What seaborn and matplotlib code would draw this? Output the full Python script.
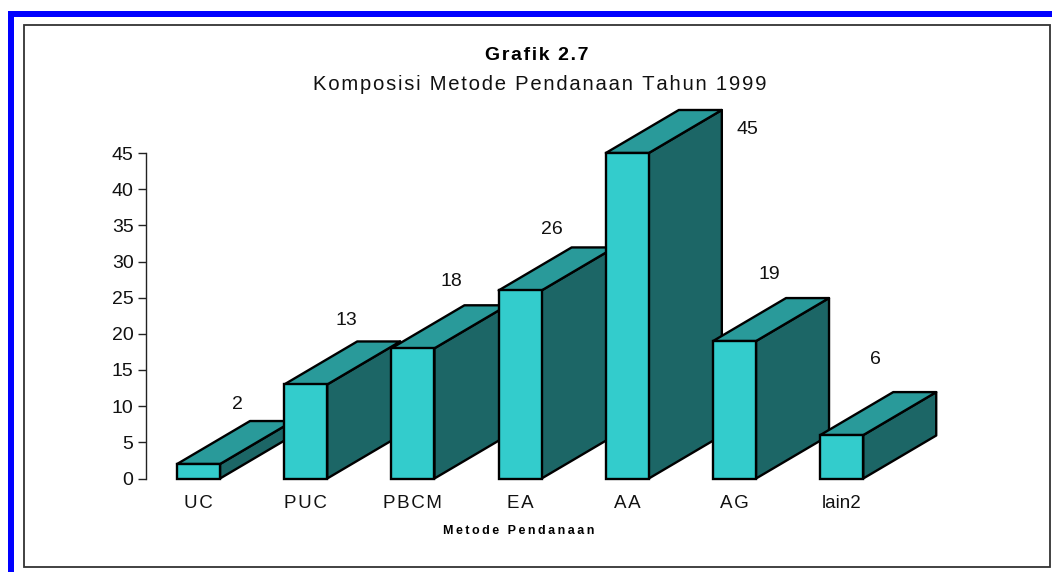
import matplotlib
matplotlib.use("Agg")
import matplotlib.pyplot as plt
from matplotlib.patches import Polygon, Rectangle
import pandas as pd
import seaborn as sns

methods = ["UC", "PUC", "PBCM", "EA", "AA", "AG", "lain2"]
values = [2, 13, 18, 26, 45, 19, 6]
y_ticks = [0, 5, 10, 15, 20, 25, 30, 35, 40, 45]
title_top = "Grafik 2.7"
title_sub = "Komposisi Metode Pendanaan Tahun 1999"
x_title = "Metode Pendanaan"

W, H = 1052, 572
THIN, HAIR = "\u2009", "\u200a"
FRONT, TOP, SIDE = "#33CCCC", "#299A9A", "#1C6666"
DEPTH_X, DEPTH_Y = 73, 43  # pixel depth of the 3-D extrusion
label_offsets = [(39, 60), (41, 64), (38, 67), (32, 61), (120, 23), (35, 67), (34, 76)]


def spaced(s, gap=HAIR):
    return gap.join(s)


sns.set_theme(style="white")
plt.rcParams["font.family"] = ["Liberation Sans", "DejaVu Sans"]

fig = plt.figure(figsize=(W / 100, H / 100), dpi=100, facecolor="white")


def fx(px):
    return px / W


def fy(py):
    return 1 - py / H


def band(x0, y0, x1, y1, color):
    fig.add_artist(Rectangle((fx(x0), fy(y1)), fx(x1 - x0), fy(y0) - fy(y1),
                             transform=fig.transFigure, facecolor=color, edgecolor="none", zorder=-2))


band(8, 11, W, 17, "#0000FF")
band(8, 11, 14, H, "#0000FF")
fig.add_artist(Rectangle((fx(24), fy(567)), fx(1050 - 24), fy(25) - fy(567),
                         transform=fig.transFigure, facecolor="white",
                         edgecolor="#333333", linewidth=1.3, zorder=-1))

ax = fig.add_axes([fx(146), fy(478.5), fx(750.4), fy(153) - fy(478.5)])
ax.patch.set_alpha(0)
df = pd.DataFrame({"method": methods, "value": values})
sns.barplot(data=df, x="method", y="value", color=FRONT, saturation=1,
            width=43 / 107.2, edgecolor="black", linewidth=1.7, ax=ax)
ax.set_xlim(-0.49, 6.51)
ax.set_ylim(0, 45)

ppx = (ax.transData.transform((1, 0))[0] - ax.transData.transform((0, 0))[0])
ppy = (ax.transData.transform((0, 1))[1] - ax.transData.transform((0, 0))[1])
ddx, ddy = DEPTH_X / ppx, DEPTH_Y / ppy

for i, (bar, v) in enumerate(zip(ax.patches, values)):
    x0, w, h = bar.get_x(), bar.get_width(), bar.get_height()
    x1 = x0 + w
    z = 3 + i * 3
    ax.add_patch(Polygon([(x1, 0), (x1 + ddx, ddy), (x1 + ddx, h + ddy), (x1, h)], closed=True,
                         facecolor=SIDE, edgecolor="black", linewidth=1.7, zorder=z,
                         clip_on=False, joinstyle="round"))
    ax.add_patch(Polygon([(x0, h), (x0 + ddx, h + ddy), (x1 + ddx, h + ddy), (x1, h)], closed=True,
                         facecolor=TOP, edgecolor="black", linewidth=1.7, zorder=z + 1,
                         clip_on=False, joinstyle="round"))
    bar.set_zorder(z + 2)
    bar.set_clip_on(False)
    ox, oy = label_offsets[i]
    ax.annotate(str(v), xy=(i, v), xytext=(ox, oy), textcoords="offset pixels",
                ha="center", va="center", fontsize=14, color="#111111", zorder=40)

sns.despine(ax=ax, top=True, right=True, bottom=True)
ax.spines["left"].set_color("#222222")
ax.spines["left"].set_linewidth(1.0)
ax.set_yticks(y_ticks)
ax.set_yticklabels([str(t) for t in y_ticks], fontsize=14, color="#111111")
ax.set_xticks(range(len(methods)))
ax.set_xticklabels([m if m.islower() else spaced(m) for m in methods], fontsize=13.5, color="#111111")
ax.tick_params(axis="y", left=True, length=6, width=1.0, color="#222222", pad=3)
ax.tick_params(axis="x", bottom=False, pad=12)
for lab in ax.get_xticklabels():
    lab.set_verticalalignment("center")
ax.set_xlabel("")
ax.set_ylabel("")

fig.text(fx(537), fy(55), spaced(title_top), ha="center", va="center",
         fontsize=14, fontweight="bold", color="black")
fig.text(fx(540), fy(84), spaced(title_sub), ha="center", va="center",
         fontsize=14.6, color="#111111")
fig.text(fx(519), fy(531), spaced(x_title, THIN), ha="center", va="center",
         fontsize=9, fontweight="bold", color="black")

fig.savefig("out.png", dpi=100)
